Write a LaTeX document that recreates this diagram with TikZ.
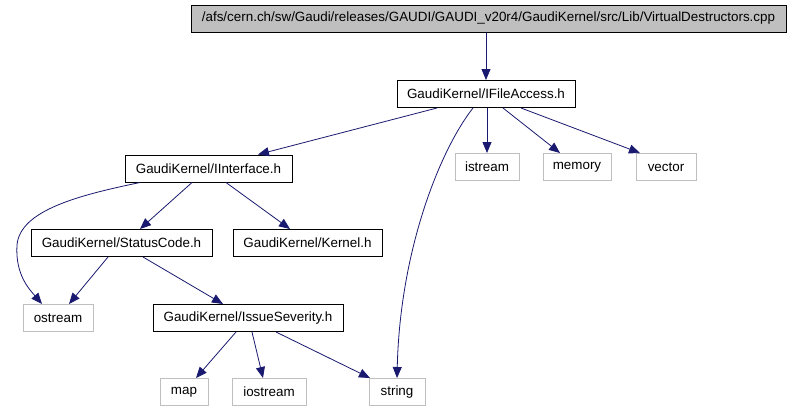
\documentclass[tikz,border=0pt]{standalone}
\usepackage{fontspec}
\setmainfont{Liberation Sans}
\usetikzlibrary{arrows.meta}
\definecolor{edgeblue}{HTML}{191970}
\definecolor{leafgray}{HTML}{BFBFBF}
\tikzset{
  box/.style={draw=black, line width=1pt, inner sep=0pt, minimum height=27pt, font=\fontsize{13.4}{15}\selectfont},
  leaf/.style={box, draw=leafgray},
  topbox/.style={box, fill=leafgray},
  edge/.style={draw=edgeblue, line width=0.8pt, -{Triangle[length=11pt,width=9pt]}},
}
\begin{document}
\begin{tikzpicture}[x=1pt,y=-1pt]
\useasboundingbox (0,0) rectangle (788,410);
\fill[white] (0,0) rectangle (788,410);
\node[topbox, minimum width=595pt] (top) at (488.5,18.5) {/afs/cern.ch/sw/Gaudi/releases/GAUDI/GAUDI\_v20r4/GaudiKernel/src/Lib/VirtualDestructors.cpp};
\node[box, minimum width=178pt] (ifa) at (486,94) {GaudiKernel/IFileAccess.h};
\node[leaf, minimum width=64pt] (istream) at (487,167) {istream};
\node[leaf, minimum width=68pt] (memory) at (577,167) {memory};
\node[leaf, minimum width=60pt] (vector) at (666,167) {vector};
\node[box, minimum width=167pt] (iint) at (208.5,168.5) {GaudiKernel/IInterface.h};
\node[box, minimum width=181pt] (sc) at (121.5,243) {GaudiKernel/StatusCode.h};
\node[box, minimum width=149pt] (kern) at (307.5,243) {GaudiKernel/Kernel.h};
\node[leaf, minimum width=70pt] (ostream) at (58,318) {ostream};
\node[box, minimum width=190pt] (iss) at (248,318) {GaudiKernel/IssueSeverity.h};
\node[leaf, minimum width=48pt] (map) at (184,392) {map};
\node[leaf, minimum width=74pt] (iostream) at (269,392) {iostream};
\node[leaf, minimum width=56pt] (string) at (397,392) {string};

\draw[edge] (top.south -| 486,0) -- (ifa.north);
\draw[edge] (ifa.south -| 437,0) -- (iint.north -| 258,0);
\draw[edge] (ifa.south -| 473,0) .. controls (440,150) and (400,250) .. (string.north);
\draw[edge] (ifa.south -| 487,0) -- (istream.north);
\draw[edge] (ifa.south -| 503,0) -- (memory.north -| 560,0);
\draw[edge] (ifa.south -| 521,0) -- (vector.north -| 640,0);
\draw[edge] (iint.south -| 140,0) .. controls (80,195) and (20,210) .. (17,245) .. controls (15,275) and (30,290) .. (ostream.north -| 42,0);
\draw[edge] (iint.south -| 192,0) -- (sc.north -| 140,0);
\draw[edge] (iint.south -| 226,0) -- (kern.north -| 290,0);
\draw[edge] (sc.south -| 108,0) -- (ostream.north -| 69,0);
\draw[edge] (sc.south -| 143,0) -- (iss.north -| 223,0);
\draw[edge] (iss.south -| 236,0) -- (map.north -| 196,0);
\draw[edge] (iss.south -| 252,0) -- (iostream.north -| 263,0);
\draw[edge] (iss.south -| 276,0) -- (string.north -| 370,0);
\end{tikzpicture}
\end{document}
